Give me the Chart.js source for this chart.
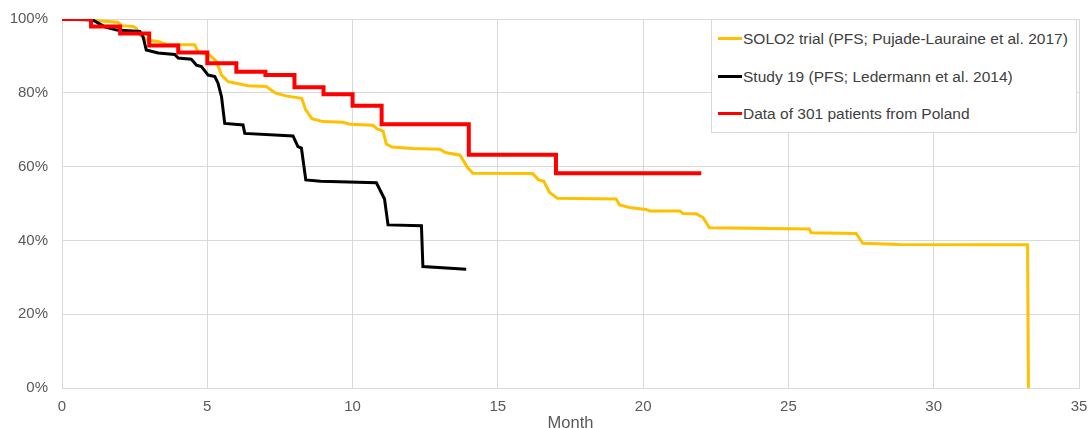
<!DOCTYPE html>
<html>
<head>
<meta charset="utf-8">
<script src="https://cdn.jsdelivr.net/npm/chart.js@4.4.1/dist/chart.umd.min.js"></script>
<style>
html,body{margin:0;padding:0;background:#fff;overflow:hidden;}
#wrap{position:relative;width:1090px;height:428px;overflow:hidden;}
#legend{position:absolute;left:711px;top:19px;width:366px;height:114px;border:1px solid #d9d9d9;background:#fff;box-sizing:border-box;font-family:"Liberation Sans",Arial,sans-serif;font-size:15.5px;color:#404040;}
.item{position:absolute;left:6px;height:18px;line-height:18px;white-space:nowrap;}
.swatch{display:inline-block;width:24px;height:3px;vertical-align:middle;margin-right:1px;position:relative;top:-1px;}
</style>
</head>
<body>
<div id="wrap">
<canvas id="c" width="1090" height="428"></canvas>
<div id="legend"></div>
</div>
<script>
// ---- data ----
const xTicks = [0, 5, 10, 15, 20, 25, 30, 35];
const yTicks = [0, 20, 40, 60, 80, 100];

const seriesNames = [
  "SOLO2 trial (PFS; Pujade-Lauraine et al. 2017)",
  "Study 19 (PFS; Ledermann et al. 2014)",
  "Data of 301 patients from Poland"
];

const solo2Months = [0,1.13,1.24,1.93,2.05,2.45,2.56,2.68,2.91,3.31,3.59,4.57,4.68,5.08,5.31,5.49,5.72,6.12,6.4,7.03,7.35,7.75,8.25,8.38,8.6,8.98,9.67,9.9,10.7,10.85,11.05,11.16,11.36,12.08,13.0,13.2,13.7,13.82,13.95,14.14,16.2,16.4,16.58,16.78,17.05,19.07,19.19,19.53,20.1,20.22,21.26,21.37,21.83,22.06,22.28,25.72,25.78,27.33,27.56,28.82,33.23,33.26];
const solo2Pct = [100,100,99.5,99.1,98.2,98.0,97.5,95.7,94.3,93.9,93.1,93.0,91.1,90.2,88.6,84.8,83.0,82.4,81.9,81.7,79.9,79.1,78.5,75.5,73.0,72.2,72.0,71.5,71.2,70.2,69.6,66.1,65.3,64.9,64.7,63.8,63.1,61.5,59.8,58.2,58.1,56.4,56.0,53.0,51.4,51.2,49.6,48.9,48.4,48.0,48.0,47.3,47.2,46.2,43.4,43.1,42.1,41.9,39.2,38.9,38.8,0];

const study19Months = [0,1.07,1.47,1.88,2.68,2.79,2.9,3.31,3.88,4.0,4.45,4.63,4.8,5.03,5.26,5.37,5.49,5.6,6.23,6.29,7.95,8.12,8.24,8.39,8.9,10.82,11.1,11.22,12.37,12.42,13.91];
const study19Pct = [100,99.7,97.9,97.0,96.6,95.2,91.6,90.8,90.4,89.4,89.1,87.5,87.1,84.8,84.4,82.6,78.9,71.7,71.3,69.0,68.3,65.4,65.0,56.4,56.0,55.6,51.2,44.2,44.0,32.9,32.2];

const polandMonths = [0,1,2,3,4,5,6,7,8,9,10,11,14,17,22];
const polandPct = [100,98.0,96.1,92.8,90.9,88.0,85.7,84.8,81.5,79.6,76.5,71.5,63.2,58.2,58.2];

const colors = ["#FFC000", "#000000", "#FF0000"];

function pts(xs, ys){ return xs.map((x,i)=>({x:x, y:ys[i]})); }

const FONT = '"Liberation Sans", Arial, sans-serif';

new Chart(document.getElementById('c'), {
  type: 'line',
  data: {
    datasets: [
      {label: seriesNames[0], data: pts(solo2Months, solo2Pct), borderColor: colors[0], backgroundColor: colors[0], borderWidth: 3, pointRadius: 0, tension: 0, order: 2},
      {label: seriesNames[1], data: pts(study19Months, study19Pct), borderColor: colors[1], backgroundColor: colors[1], borderWidth: 3, pointRadius: 0, tension: 0, order: 1},
      {label: seriesNames[2], data: pts(polandMonths, polandPct), borderColor: colors[2], backgroundColor: colors[2], borderWidth: 4, pointRadius: 0, stepped: 'before', order: 0}
    ]
  },
  options: {
    responsive: false,
    animation: false,
    devicePixelRatio: 1,
    layout: {padding: {left: 0, right: 11, top: 19, bottom: 0}},
    plugins: {legend: {display: false}, tooltip: {enabled: false}},
    scales: {
      x: {
        type: 'linear', min: 0, max: 35,
        afterBuildTicks: s => { s.ticks = xTicks.map(v => ({value: v})); },
        afterFit: s => { s.height = 40; s.paddingLeft = 0; s.paddingRight = 0; },
        grid: {color: '#d9d9d9', drawTicks: false, lineWidth: 1},
        border: {color: '#d9d9d9'},
        ticks: {color: '#595959', font: {family: FONT, size: 15}, padding: 10},
        title: {display: true, text: 'Month', color: '#595959', font: {family: FONT, size: 16.5}, padding: {top: 0, bottom: -5}}
      },
      y: {
        min: 0, max: 100,
        afterBuildTicks: s => { s.ticks = yTicks.map(v => ({value: v})); },
        afterFit: s => { s.width = 62; s.paddingTop = 0; s.paddingBottom = 0; },
        grid: {color: '#d9d9d9', drawTicks: false, lineWidth: 1},
        border: {display: false},
        ticks: {color: '#595959', font: {family: FONT, size: 15}, padding: 14, callback: v => v + '%'}
      }
    }
  }
});

// HTML legend
const lg = document.getElementById('legend');
const tops = [10, 48, 85];
seriesNames.forEach((n, i) => {
  const d = document.createElement('div');
  d.className = 'item';
  d.style.top = tops[i] + 'px';
  const sw = document.createElement('span');
  sw.className = 'swatch';
  sw.style.background = colors[i];
  d.appendChild(sw);
  d.appendChild(document.createTextNode(n));
  lg.appendChild(d);
});
</script>
</body>
</html>
